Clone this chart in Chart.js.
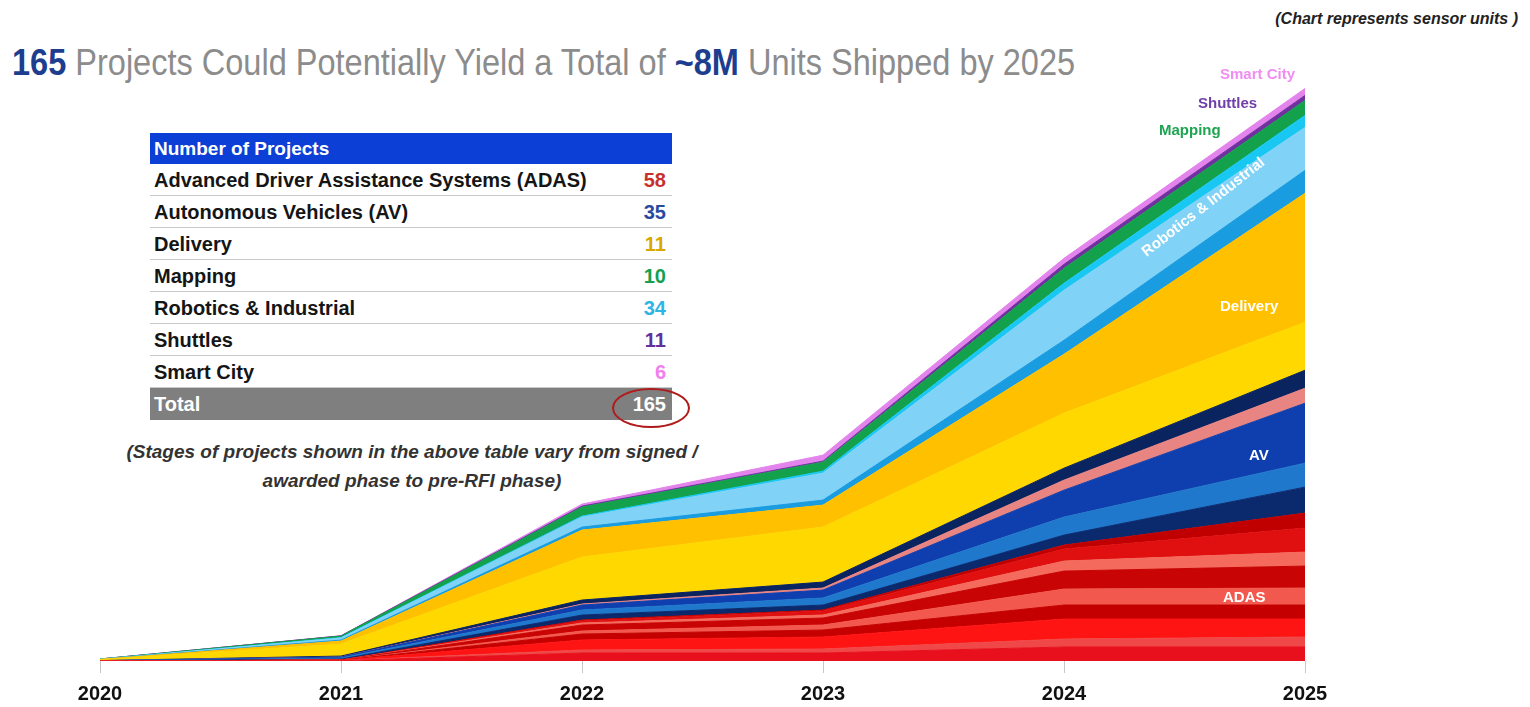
<!DOCTYPE html>
<html>
<head>
<meta charset="utf-8">
<script src="https://cdn.jsdelivr.net/npm/chart.js@4.4.1/dist/chart.umd.min.js"></script>
<style>
  body { margin:0; width:1530px; height:707px; background:#fff; position:relative; overflow:hidden;
         font-family:"Liberation Sans Narrow","Arial Narrow","Liberation Sans",Arial,sans-serif; }
  .abs { position:absolute; white-space:nowrap; }
  #chartBox { position:absolute; left:60px; top:64px; width:1290px; height:651px; }
  #title { left:12px; top:42px; font-size:36px; color:#8c8c8c; transform-origin:0 0; }
  #title b { color:#1d3d8f; }
  #note { right:12px; top:10px; font-size:16px; font-weight:bold; font-style:italic; color:#222; }
  .tbl { left:150px; width:522px; }
  .hdr { top:133px; height:31px; background:#0b3fd6; color:#fff; font-weight:bold; font-size:19px; line-height:31px; padding-left:4px; box-sizing:border-box; }
  .row { height:32px; line-height:32px; font-size:20px; font-weight:bold; color:#151515; border-bottom:1px solid #c8c8c8; box-sizing:border-box; padding:0 6px 0 4px; }
  .row span { float:right; }
  .tot { background:#7f7f7f; color:#fff; border-bottom:none; }
  #ring { left:612px; top:388px; width:74px; height:36px; border:2px solid #b01c1c; border-radius:50%; }
  #stage { left:90px; top:437px; width:644px; text-align:center; font-size:19px; font-weight:bold; font-style:italic; color:#333; line-height:29px; }
  .lbl { font-weight:bold; font-size:15px; }
</style>
</head>
<body>
<div class="abs" id="note">(Chart represents sensor units )</div>
<div class="abs" id="title"><b>165</b> Projects Could Potentially Yield a Total of <b>~8M</b> Units Shipped by 2025</div>

<div class="abs tbl hdr">Number of Projects</div>
<div class="abs tbl" id="rows" style="top:164px;"></div>
<div class="abs" id="ring"></div>
<div class="abs" id="stage">(Stages of projects shown in the above table vary from signed /<br>awarded phase to pre-RFI phase)</div>

<div id="chartBox"><canvas id="c" width="1290" height="651"></canvas></div>

<div class="abs lbl" style="left:1220px;top:65px;color:#f08cf2;">Smart City</div>
<div class="abs lbl" style="left:1198px;top:94px;color:#7040a8;">Shuttles</div>
<div class="abs lbl" style="left:1159px;top:121px;color:#1ea552;">Mapping</div>
<div class="abs lbl" style="left:1138px;top:246px;color:#fff;transform:rotate(-38deg);transform-origin:0 0;">Robotics &amp; Industrial</div>
<div class="abs lbl" style="left:1220px;top:297px;color:#fff;">Delivery</div>
<div class="abs lbl" style="left:1249px;top:446px;color:#fff;">AV</div>
<div class="abs lbl" style="left:1223px;top:588px;color:#fff;">ADAS</div>

<script>
const years = ['2020', '2021', '2022', '2023', '2024', '2025'];

// table
const segments = ['Advanced Driver Assistance Systems (ADAS)', 'Autonomous Vehicles (AV)', 'Delivery',
  'Mapping', 'Robotics & Industrial', 'Shuttles', 'Smart City'];
const projectCounts = [58, 35, 11, 10, 34, 11, 6];
const countColors = ['#c8302c', '#2a4aa0', '#d8a800', '#14a050', '#30b4e4', '#6030a0', '#f080f0'];

// sensor units shipped (thousands), each band stacked bottom to top
const adas = [
  [0, 4, 112, 112, 196, 196],
  [0, 3, 42, 56, 112, 140],
  [0, 3, 140, 168, 280, 252],
  [0, 1, 84, 98, 196, 196],
  [0, 1, 42, 70, 224, 238],
  [0, 1, 84, 98, 252, 308],
  [0, 0, 28, 42, 140, 196],
  [0, 0, 28, 56, 168, 336],
  [0, 0, 14, 14, 56, 210]
];
const av = [
  [3, 14, 70, 70, 140, 364],
  [1, 14, 70, 98, 252, 336],
  [1, 14, 70, 112, 378, 840],
  [0, 0, 14, 28, 140, 210],
  [1, 14, 56, 84, 168, 252]
];
const delivery = [
  [14, 168, 602, 770, 770, 672],
  [3, 42, 378, 308, 826, 1806]
];
const robotics = [
  [0, 14, 42, 70, 196, 322],
  [1, 28, 140, 378, 700, 602],
  [0, 7, 14, 28, 98, 168]
];
const mapping = [4, 21, 126, 126, 210, 210];
const shuttles = [0, 4, 14, 14, 56, 70];
const smartCity = [0, 0, 28, 84, 84, 98];

const adasColors = ['#e8101c', '#f04848', '#ff1414', '#c40000', '#f2584e', '#c80404', '#f46a5c', '#e01010', '#c00000'];
const avColors = ['#0b2a6e', '#2078cc', '#0f3fae', '#e88482', '#0a2460'];
const deliveryColors = ['#ffd800', '#ffc000'];
const roboticsColors = ['#1a9ce0', '#80d2f6', '#18c8f2'];

// build the table rows
const rowsEl = document.getElementById('rows');
let html = '';
segments.forEach((s, i) => {
  html += `<div class="row">${s.replace('&', '&amp;')}<span style="color:${countColors[i]}">${projectCounts[i]}</span></div>`;
});
const total = projectCounts.reduce((a, b) => a + b, 0);
html += `<div class="row tot">Total<span>${total}</span></div>`;
rowsEl.innerHTML = html;

// fit the title to its width
const titleEl = document.getElementById('title');
titleEl.style.transform = `scaleX(${1063 / titleEl.offsetWidth})`;

const bands = [];
adas.forEach((d, i) => bands.push({ label: 'ADAS', data: d, color: adasColors[i] }));
av.forEach((d, i) => bands.push({ label: 'AV', data: d, color: avColors[i] }));
delivery.forEach((d, i) => bands.push({ label: 'Delivery', data: d, color: deliveryColors[i] }));
robotics.forEach((d, i) => bands.push({ label: 'Robotics & Industrial', data: d, color: roboticsColors[i] }));
bands.push({ label: 'Mapping', data: mapping, color: '#13a14c' });
bands.push({ label: 'Shuttles', data: shuttles, color: '#7030a0' });
bands.push({ label: 'Smart City', data: smartCity, color: '#e384ec' });

new Chart(document.getElementById('c'), {
  type: 'line',
  data: {
    labels: years,
    datasets: bands.map((b, i) => ({
      label: b.label,
      data: b.data,
      backgroundColor: b.color,
      borderColor: b.color,
      borderWidth: 1,
      pointRadius: 0,
      tension: 0,
      fill: i === 0 ? 'origin' : '-1'
    }))
  },
  options: {
    responsive: false,
    animation: false,
    layout: { padding: { left: 40, right: 45, top: 16, bottom: 0 } },
    plugins: { legend: { display: false }, tooltip: { enabled: false } },
    scales: {
      x: {
        grid: { drawOnChartArea: false, drawTicks: true, tickLength: 12, color: '#c8c8c8' },
        border: { display: false },
        ticks: { color: '#111', padding: 9, maxRotation: 0,
                 font: { family: '"Liberation Sans Narrow","Arial Narrow","Liberation Sans",sans-serif', size: 20, weight: 'bold' } }
      },
      y: { stacked: true, display: false, min: 0, max: 8140 }
    }
  }
});
</script>
</body>
</html>
